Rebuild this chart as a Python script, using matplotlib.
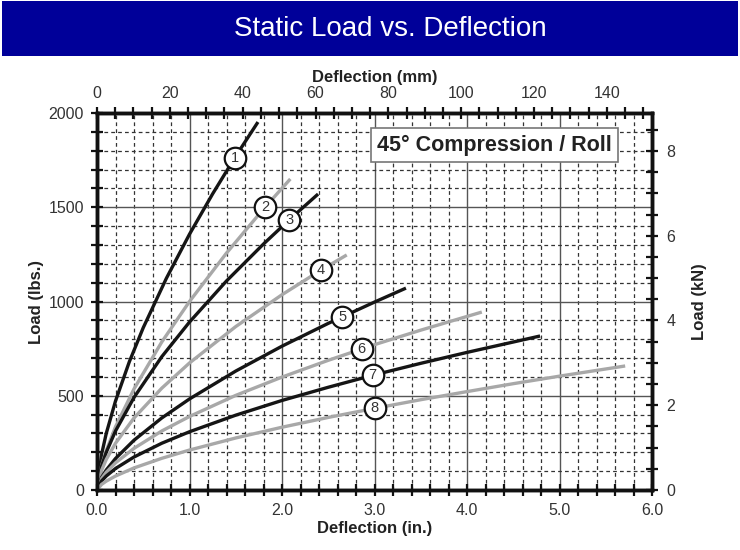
import numpy as np
import matplotlib
matplotlib.use("Agg")
import matplotlib.pyplot as plt
from matplotlib.patches import Rectangle
from matplotlib.ticker import MultipleLocator

plt.rcParams['font.family'] = ['Liberation Sans', 'DejaVu Sans']

# ===== data (deflection in inches, load in lbs) =====
x1 = [0, 0.05, 0.1, 0.2, 0.35, 0.5, 0.75, 1.0, 1.25, 1.5, 1.74]
y1 = [0, 190, 300, 472, 681, 861, 1123, 1357, 1571, 1771, 1952]

x2 = [0, 0.05, 0.1, 0.2, 0.4, 0.7, 1.0, 1.4, 1.8, 2.09]
y2 = [0, 130, 209, 335, 536, 785, 1000, 1257, 1491, 1650]

x3 = [0, 0.05, 0.1, 0.2, 0.4, 0.7, 1.0, 1.4, 1.8, 2.1, 2.39]
y3 = [0, 127, 200, 313, 491, 707, 891, 1109, 1305, 1443, 1570]

x4 = [0, 0.05, 0.1, 0.2, 0.4, 0.7, 1.0, 1.5, 2.0, 2.4, 2.70]
y4 = [0, 105, 162, 248, 382, 540, 674, 867, 1036, 1160, 1247]

x5 = [0, 0.05, 0.1, 0.2, 0.4, 0.7, 1.0, 1.5, 2.0, 2.5, 3.0, 3.34]
y5 = [0, 67, 106, 167, 264, 382, 483, 631, 763, 884, 997, 1071]

x6 = [0, 0.05, 0.1, 0.2, 0.4, 0.7, 1.0, 1.5, 2.0, 2.5, 3.0, 3.5, 4.16]
y6 = [0, 61, 94, 144, 221, 313, 390, 502, 599, 688, 771, 848, 944]

x7 = [0, 0.05, 0.1, 0.2, 0.4, 0.7, 1.0, 1.5, 2.0, 2.5, 3.0, 3.5, 4.0, 4.5, 4.79]
y7 = [0, 48, 74, 114, 175, 248, 309, 397, 475, 545, 611, 672, 730, 785, 817]

x8 = [0, 0.05, 0.1, 0.2, 0.4, 0.7, 1.0, 1.5, 2.0, 2.5, 3.0, 3.5, 4.0, 4.5, 5.0, 5.71]
y8 = [0, 30, 47, 74, 117, 168, 212, 276, 333, 385, 433, 479, 522, 564, 604, 658]

curve_x = [x1, x2, x3, x4, x5, x6, x7, x8]
curve_y = [y1, y2, y3, y4, y5, y6, y7, y8]
curve_names = ['1', '2', '3', '4', '5', '6', '7', '8']
label_x = [1.49, 1.82, 2.08, 2.42, 2.65, 2.86, 2.98, 3.0]

BLACK = '#151515'
GRAY = '#a8a8a8'
curve_colors = [BLACK, GRAY, BLACK, GRAY, BLACK, GRAY, BLACK, GRAY]

X_MAX = 6.0
Y_MAX = 2000
MM_PER_IN = 25.4
KN_PER_LB = 0.0044482

# ===== figure =====
fig = plt.figure(figsize=(7.4, 5.5), dpi=100)
fig.patch.set_facecolor('white')

# blue header band
fig.patches.append(Rectangle((0.003, 1 - 56 / 550), 0.994, 55 / 550, transform=fig.transFigure,
                             facecolor='#000099', edgecolor='none'))
fig.text(0.527, 1 - 29 / 550, 'Static Load vs. Deflection', color='white',
         fontsize=20, ha='center', va='center')

ax = fig.add_axes([97 / 740, 1 - 490 / 550, 555 / 740, 377 / 550])
ax.set_xlim(0, X_MAX)
ax.set_ylim(0, Y_MAX)

# grid: dashed minor, solid major
ax.xaxis.set_major_locator(MultipleLocator(1.0))
ax.xaxis.set_minor_locator(MultipleLocator(0.2))
ax.yaxis.set_major_locator(MultipleLocator(500))
ax.yaxis.set_minor_locator(MultipleLocator(100))
ax.grid(which='minor', color='#333333', linestyle=(0, (3, 2.5)), lw=0.9)
ax.grid(which='major', color='#555555', linestyle='-', lw=1.0)
ax.set_axisbelow(True)
ax.xaxis.set_major_formatter(lambda v, pos: f'{v:.1f}')


def style_ticks(a):
    a.tick_params(which='both', direction='inout', color='#111111', width=1.6, labelsize=11.5,
                  labelcolor='#333333')
    a.tick_params(which='major', length=9)
    a.tick_params(which='minor', length=8)
    for sp in a.spines.values():
        sp.set_linewidth(2.4)
        sp.set_color('#111111')


style_ticks(ax)
ax.tick_params(which='both', top=False, right=False, pad=5)
ax.set_xlabel('Deflection (in.)', fontsize=12, fontweight='bold', color='#222222', labelpad=2)
ax.set_ylabel('Load (lbs.)', fontsize=12, fontweight='bold', color='#222222', labelpad=3)

# top axis in mm
top = ax.twiny()
top.set_xlim(0, X_MAX * MM_PER_IN)
top.xaxis.set_major_locator(MultipleLocator(20))
top.xaxis.set_minor_locator(MultipleLocator(5))
style_ticks(top)
top.tick_params(which='both', pad=4)
top.set_xlabel('Deflection (mm)', fontsize=12, fontweight='bold', color='#222222', labelpad=3)

# right axis in kN
right = ax.twinx()
right.set_ylim(0, Y_MAX * KN_PER_LB)
right.yaxis.set_major_locator(MultipleLocator(2))
right.yaxis.set_minor_locator(MultipleLocator(0.5))
style_ticks(right)
right.tick_params(which='both', pad=6)
right.set_ylabel('Load (kN)', fontsize=12, fontweight='bold', color='#222222', labelpad=12)

# curves
for xs, ys, c in zip(curve_x, curve_y, curve_colors):
    ax.plot(xs, ys, color=c, lw=2.4, solid_capstyle='butt', zorder=3)

# numbered circles on curves
for xs, ys, name, lx in zip(curve_x, curve_y, curve_names, label_x):
    ly = np.interp(lx, xs, ys)
    ax.plot(lx, ly, 'o', ms=15.5, mfc='white', mec='#111111', mew=1.6, zorder=4)
    ax.text(lx, ly, name, ha='center', va='center', fontsize=10.5, color='#333333', zorder=5)

ax.text(0.716, 0.915, '45° Compression / Roll', transform=ax.transAxes, ha='center', va='center',
        fontsize=15.5, fontweight='bold', color='#222222', zorder=6,
        bbox=dict(boxstyle='square,pad=0.3', facecolor='white', edgecolor='#777777', lw=1.2))

fig.savefig('out.png', dpi=100)
